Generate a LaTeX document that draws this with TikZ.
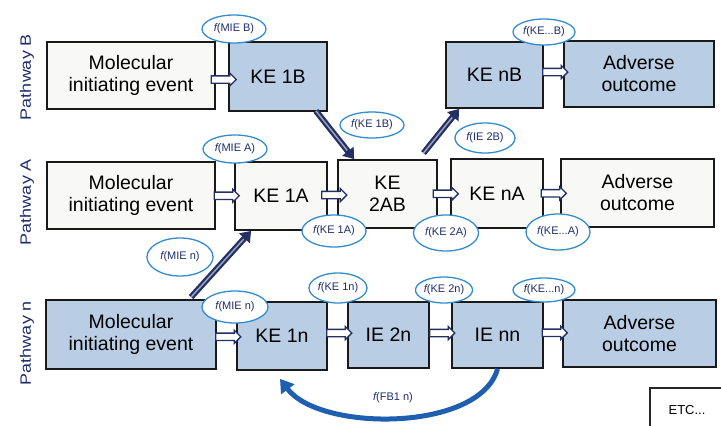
\documentclass[tikz,border=0pt]{standalone}
\usepackage{fontspec}
\setmainfont{Liberation Sans}
\usetikzlibrary{shapes.geometric,shapes.arrows,arrows.meta,calc}
\definecolor{boxblue}{RGB}{185,205,229}
\definecolor{boxwhite}{RGB}{248,248,246}
\definecolor{navy}{RGB}{35,48,100}
\definecolor{ellblue}{RGB}{50,140,205}
\definecolor{fbblue}{RGB}{30,95,175}
\definecolor{labnavy}{RGB}{30,45,110}
\begin{document}
\begin{tikzpicture}[x=1pt,y=-1pt,
  box/.style={draw=black!90, line width=1.8pt, inner sep=0pt, align=center, font=\fontsize{19.5}{22}\selectfont},
  bluebox/.style={box, fill=boxblue},
  whitebox/.style={box, fill=boxwhite},
  flab/.style={ellipse, draw=ellblue, line width=1.3pt, fill=white, inner sep=0pt, text=labnavy, font=\fontsize{11}{13}\selectfont},
  harrow/.style={single arrow, draw=navy, fill=white, line width=1.3pt, inner sep=0pt, text height=3pt, text depth=3pt, minimum width=0pt, minimum height=25pt, single arrow head extend=3pt},
  link/.style={draw=navy, line width=6pt, -{Triangle[length=10pt,width=14pt]}},
  linkhi/.style={draw=navy!45!white, line width=1.5pt, shorten >=11pt},
  fb/.style={draw=fbblue, line width=5pt, -{Triangle[length=13pt,width=16pt]}},
  pw/.style={rotate=90, text=labnavy, font=\fontsize{15}{18}\selectfont}
]
\useasboundingbox (0,0) rectangle (721,426);
\fill[white] (0,0) rectangle (721,426);

% Pathway labels
\node[pw] (pwb) at (27,77) {\scalebox{1.2}[1]{Pathway B}};
\node[pw] (pwa) at (27,202) {\scalebox{1.2}[1]{Pathway A}};
\node[pw] (pwn) at (27,343) {\scalebox{1.2}[1]{Pathway n}};

% Row B
\node[whitebox, minimum width=168pt, minimum height=67pt] (mieb) at (131,75.5) {Molecular\\initiating event};
\node[bluebox, minimum width=98pt, minimum height=69pt] (ke1b) at (278,76.5) {KE 1B};
\node[bluebox, minimum width=97pt, minimum height=66pt] (kenb) at (494.5,75) {KE nB};
\node[bluebox, minimum width=150pt, minimum height=66pt] (aob) at (639,74) {Adverse\\outcome};

% Row A
\node[whitebox, minimum width=168pt, minimum height=67pt] (miea) at (131,195.5) {Molecular\\initiating event};
\node[whitebox, minimum width=92pt, minimum height=68pt] (ke1a) at (281,196) {KE 1A};
\node[whitebox, minimum width=99pt, minimum height=68pt] (ke2ab) at (387.5,194) {KE\\2AB};
\node[whitebox, minimum width=92pt, minimum height=69pt] (kena) at (497,193.5) {KE nA};
\node[whitebox, minimum width=153pt, minimum height=68pt] (aoa) at (637.5,193) {Adverse\\outcome};

% Row n
\node[bluebox, minimum width=170pt, minimum height=69pt] (mien) at (131,334.5) {Molecular\\initiating event};
\node[bluebox, minimum width=90pt, minimum height=68pt] (ke1n) at (282,336) {KE 1n};
\node[bluebox, minimum width=81pt, minimum height=66pt] (ie2n) at (388.5,335) {IE 2n};
\node[bluebox, minimum width=91pt, minimum height=66pt] (ienn) at (497.5,335) {IE nn};
\node[bluebox, minimum width=153pt, minimum height=67pt] (aon) at (639.5,333.5) {Adverse\\outcome};

% hollow arrows between boxes
\path ($(mieb.east)+(0,4)$) -- ($(ke1b.west)+(0,3)$) node[midway, harrow] (a1) {};
\path ($(kenb.east)+(0,-3)$) -- ($(aob.west)+(0,-2)$) node[midway, harrow] (a2) {};
\path (miea.east) -- (ke1a.west) node[midway, harrow] (a3) {};
\path (ke1a.east) -- (ke2ab.west) node[midway, harrow] (a4) {};
\path (ke2ab.east) -- (kena.west) node[midway, harrow] (a5) {};
\path (kena.east) -- (aoa.west) node[midway, harrow] (a6) {};
\path ($(mien.east)+(0,2)$) -- ($(ke1n.west)+(0,1)$) node[midway, harrow] (a7) {};
\path ($(ke1n.east)+(0,-3)$) -- ($(ie2n.west)+(0,-2)$) node[midway, harrow] (a8) {};
\path ($(ie2n.east)+(0,-2)$) -- ($(ienn.west)+(0,-2)$) node[midway, harrow] (a9) {};
\path ($(ienn.east)+(0,-2)$) -- ($(aon.west)+(0,-1)$) node[midway, harrow] (a10) {};

% diagonal links
\draw[link] ($(ke1b.south east)+(-12,-1)$) -- ($(ke2ab.north west)+(17,0)$);
\draw[linkhi] ($(ke1b.south east)+(-12,-1)$) -- ($(ke2ab.north west)+(17,0)$);
\draw[link] ($(ke2ab.north)+(36,-6)$) -- ($(kenb.south west)+(14,0)$);
\draw[linkhi] ($(ke2ab.north)+(36,-6)$) -- ($(kenb.south west)+(14,0)$);
\draw[link] ($(mien.north west)+(146,-2)$) -- ($(ke1a.south west)+(17,0)$);
\draw[linkhi] ($(mien.north west)+(146,-2)$) -- ($(ke1a.south west)+(17,0)$);

% feedback arc
\draw[fb] (ienn.south) .. controls (480,432) and (320,432) .. ($(ke1n.south)+(-2,8)$);
\node[text=labnavy, font=\fontsize{11}{13}\selectfont] (fbl) at (393,398) {{\itshape f}(FB1 n)};

% f labels
\node[flab, minimum width=64pt, minimum height=28pt] (e1) at (234,29) {{\itshape f}(MIE B)};
\node[flab, minimum width=62pt, minimum height=26pt] (e2) at (544,32) {{\itshape f}(KE...B)};
\node[flab, minimum width=64pt, minimum height=26pt] (e3) at (372,125) {{\itshape f}(KE 1B)};
\node[flab, minimum width=60pt, minimum height=30pt] (e4) at (485,138) {{\itshape f}(IE 2B)};
\node[flab, minimum width=64pt, minimum height=28pt] (e5) at (235,149) {{\itshape f}(MIE A)};
\node[flab, minimum width=64pt, minimum height=32pt] (e6) at (334,231) {{\itshape f}(KE 1A)};
\node[flab, minimum width=65pt, minimum height=36pt] (e7) at (446,233) {{\itshape f}(KE 2A)};
\node[flab, minimum width=64pt, minimum height=36pt] (e8) at (558,232) {{\itshape f}(KE...A)};
\node[flab, minimum width=66pt, minimum height=38pt] (e9) at (180,257) {{\itshape f}(MIE n)};
\node[flab, minimum width=66pt, minimum height=32pt] (e10) at (235,307) {{\itshape f}(MIE n)};
\node[flab, minimum width=58pt, minimum height=30pt] (e11) at (338,288) {{\itshape f}(KE 1n)};
\node[flab, minimum width=56pt, minimum height=26pt] (e12) at (444,290) {{\itshape f}(KE 2n)};
\node[flab, minimum width=62pt, minimum height=24pt] (e13) at (544,290) {{\itshape f}(KE...n)};

% ETC box
\node[font=\fontsize{13}{15}\selectfont] (etc) at (687,410) {ETC...};
\draw[line width=1.2pt, black!85] (721,388) -- (650,388) -- (650,426);
\end{tikzpicture}
\end{document}
